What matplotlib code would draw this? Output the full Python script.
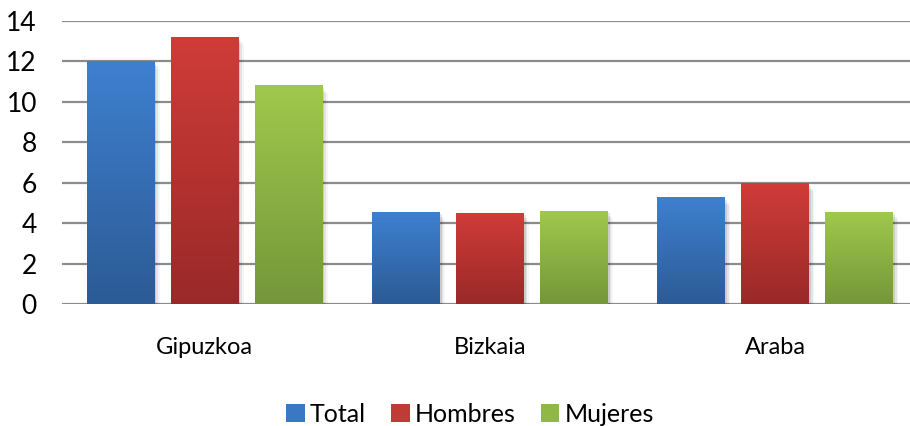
import matplotlib.pyplot as plt
import numpy as np
from matplotlib.colors import LinearSegmentedColormap
from matplotlib.patches import Patch

# data
regions = ["Gipuzkoa", "Bizkaia", "Araba"]
series = ["Total", "Hombres", "Mujeres"]
total = [12.0, 4.55, 5.25]
hombres = [13.2, 4.5, 5.95]
mujeres = [10.8, 4.6, 4.55]
values = [total, hombres, mujeres]

# gradient colours (top, bottom)
grads = [("#3E80D0", "#2C5B95"), ("#D03C38", "#992928"), ("#9FC94C", "#75963A")]
solid = ["#3A77C4", "#C03A36", "#8FB845"]

plt.rcParams['font.family'] = ['Lato', 'DejaVu Sans']

fig = plt.figure(figsize=(9.10, 4.26), dpi=100)
ax = fig.add_axes([62 / 910, 122 / 426, 856 / 910, 283 / 426])

x = np.arange(len(regions))
width = 0.238
step = 0.2942

grad = np.linspace(1, 0, 256).reshape(-1, 1)
for i, vals in enumerate(values):
    cmap = LinearSegmentedColormap.from_list("g%d" % i, [grads[i][1], grads[i][0]])
    pos = x + (i - 1) * step
    for xp, v in zip(pos, vals):
        # soft shadow
        for k, a in enumerate([0.10, 0.07, 0.04]):
            d = 0.006 * (k + 1)
            ax.bar(xp + d, v, width, bottom=-0.12 * (k + 1), color="black",
                   alpha=a, linewidth=0, zorder=2)
        ax.imshow(grad, cmap=cmap, aspect='auto', vmin=0, vmax=1,
                  extent=(xp - width / 2, xp + width / 2, 0, v), zorder=3)

ax.set_xlim(-0.5, 2.5)
ax.set_ylim(0, 14)
ax.set_yticks(range(0, 15, 2))
ax.set_xticks(x)
ax.set_xticklabels(regions, fontsize=17)
ax.yaxis.grid(True, color="#8C8C8C", linewidth=1.6)
ax.set_axisbelow(True)
for s in ax.spines.values():
    s.set_visible(False)
ax.tick_params(axis='y', length=0, pad=18, labelsize=19)
ax.tick_params(axis='x', length=0, pad=24)

handles = [Patch(facecolor=c, label=l) for c, l in zip(solid, series)]
fig.legend(handles=handles, loc='center', bbox_to_anchor=(470 / 910, 12 / 426),
           ncol=3, frameon=False, fontsize=18, handlelength=0.75, handleheight=0.75,
           handletextpad=0.2, columnspacing=1.0)

fig.savefig("out.png", dpi=100)
